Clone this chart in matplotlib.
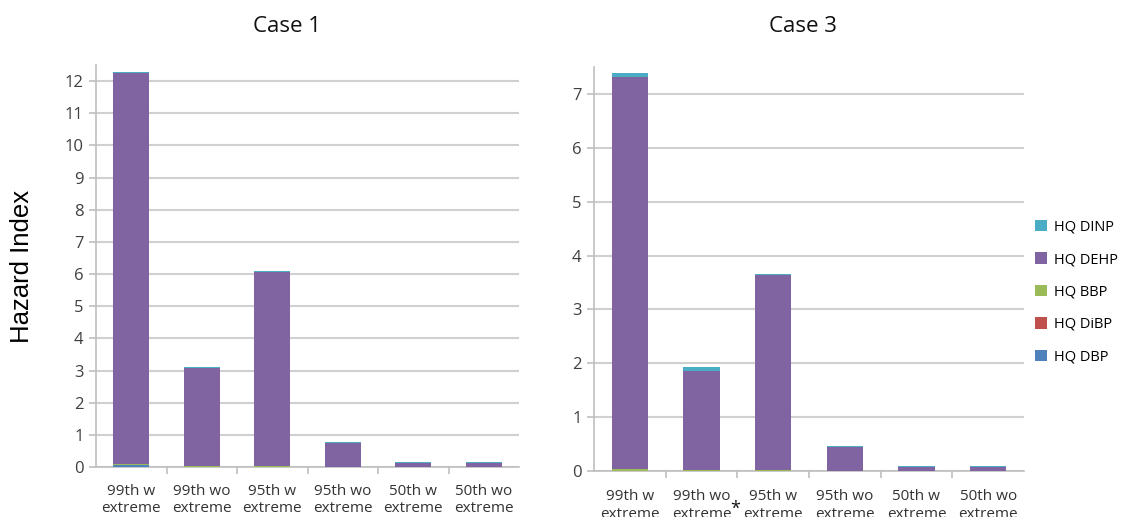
import matplotlib.pyplot as plt
import numpy as np

categories = ["99th w\nextreme", "99th wo\nextreme", "95th w\nextreme",
              "95th wo\nextreme", "50th w\nextreme", "50th wo\nextreme"]
series = ["HQ DBP", "HQ DiBP", "HQ BBP", "HQ DEHP", "HQ DINP"]
COLORS = ["#4F81BD", "#C0504D", "#9BBB59", "#8064A2", "#4BACC6"]

# case 1 stacks (DBP, DiBP, BBP, DEHP, DINP)
case1_dbp = [0.05, 0.01, 0.01, 0.005, 0.002, 0.002]
case1_dibp = [0.005, 0.002, 0.002, 0.001, 0.001, 0.001]
case1_bbp = [0.03, 0.01, 0.01, 0.005, 0.002, 0.002]
case1_dehp = [12.16, 3.05, 6.05, 0.75, 0.12, 0.12]
case1_dinp = [0.04, 0.03, 0.03, 0.02, 0.015, 0.015]

# case 3 stacks
case3_dbp = [0.005, 0.003, 0.003, 0.001, 0.001, 0.001]
case3_dibp = [0.002, 0.001, 0.001, 0.001, 0.001, 0.001]
case3_bbp = [0.03, 0.01, 0.01, 0.003, 0.001, 0.001]
case3_dehp = [7.28, 1.84, 3.62, 0.44, 0.075, 0.075]
case3_dinp = [0.07, 0.07, 0.03, 0.015, 0.012, 0.012]

case1 = [case1_dbp, case1_dibp, case1_bbp, case1_dehp, case1_dinp]
case3 = [case3_dbp, case3_dibp, case3_bbp, case3_dehp, case3_dinp]

plt.rcParams["font.family"] = ["Open Sans", "DejaVu Sans"]

fig = plt.figure(figsize=(11.29, 5.17), dpi=100)
ax1 = fig.add_axes([96 / 1129, 1 - 467 / 517, (519 - 96) / 1129, (467 - 65) / 517])
ax3 = fig.add_axes([594 / 1129, 1 - 471 / 517, (1024 - 594) / 1129, (471 - 67) / 517])


def draw(ax, data, ymax, xpad):
    x = np.arange(len(categories))
    bottom = np.zeros(len(categories))
    handles = []
    for name, vals, col in zip(series, data, COLORS):
        b = ax.bar(x, vals, bottom=bottom, width=0.51, color=col, label=name,
                   edgecolor="none", zorder=3)
        handles.append(b)
        bottom += np.array(vals)
    ax.set_xlim(-0.5, len(categories) - 0.5)
    ax.set_ylim(0, ymax)
    ax.set_yticks(np.arange(0, int(ymax) + 1))
    ax.yaxis.grid(True, color="#D0D0D0", linewidth=1.5, zorder=0)
    ax.set_xticks(x)
    ax.set_xticklabels(categories, fontsize=11, color="#333333", linespacing=1.25)
    ax.set_xticks(np.arange(0.5, len(categories) - 0.5), minor=True)
    ax.tick_params(axis="x", which="major", length=0, pad=xpad)
    ax.tick_params(axis="x", which="minor", length=5, color="#BFBFBF", width=1.2)
    ax.tick_params(axis="y", length=5, color="#BFBFBF", width=1.2, labelsize=12,
                   labelcolor="#404040", pad=4)
    for s in ["top", "right"]:
        ax.spines[s].set_visible(False)
    for s in ["left", "bottom"]:
        ax.spines[s].set_color("#BFBFBF")
        ax.spines[s].set_linewidth(1.2)
    return handles


draw(ax1, case1, 12.5, 12)
h = draw(ax3, case3, 7.5, 13)

# raised asterisk after "99th wo extreme" in case 3
ax3.annotate("*", xy=(1, 0), xycoords=("data", "axes fraction"),
             xytext=(34, -38), textcoords="offset pixels", ha="center",
             va="center", fontsize=13, color="#111111")

fig.text(287 / 1129, 1 - 27 / 517, "Case 1", ha="center", va="center",
         fontsize=16, color="#111111")
fig.text(803 / 1129, 1 - 27 / 517, "Case 3", ha="center", va="center",
         fontsize=16, color="#111111")

fig.text(22 / 1129, 1 - 266 / 517, "Hazard Index", rotation=90, ha="center",
         va="center", fontsize=18.5, family=["Liberation Sans", "DejaVu Sans"])

fig.legend(h[::-1], series[::-1], loc="center left",
           bbox_to_anchor=(1022 / 1129, 1 - 292 / 517), frameon=False,
           fontsize=10.5, handlelength=0.8, handleheight=0.8, handletextpad=0.5,
           labelspacing=1.2)

fig.savefig("out.png", dpi=100)
